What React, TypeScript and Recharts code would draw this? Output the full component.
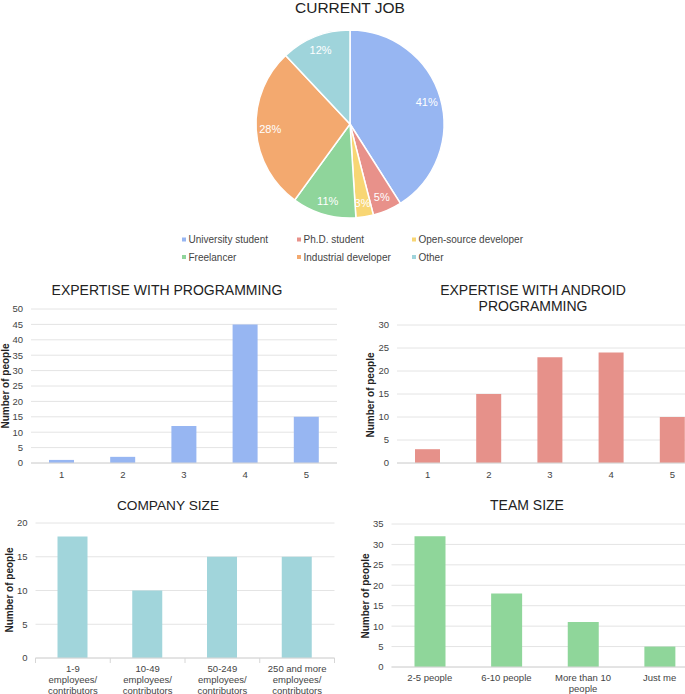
import React from 'react';
import { PieChart, Pie, Cell, BarChart, Bar, XAxis, YAxis, CartesianGrid } from 'recharts';

// ---------- DATA ----------
const jobLabels = ['University student', 'Ph.D. student', 'Open-source developer', 'Freelancer', 'Industrial developer', 'Other'];
const jobShares = [41, 5, 3, 11, 28, 12];
const jobColors = ['#97b6f2', '#e8918a', '#f8d674', '#8fd59b', '#f3a96f', '#9fd4db'];

const progLevels = ['1', '2', '3', '4', '5'];
const progCounts = [1, 2, 12, 45, 15];
const progTicks = [0, 5, 10, 15, 20, 25, 30, 35, 40, 45, 50];

const androidLevels = ['1', '2', '3', '4', '5'];
const androidCounts = [3, 15, 23, 24, 10];
const androidTicks = [0, 5, 10, 15, 20, 25, 30];

const companySizes = ['1-9 employees/ contributors', '10-49 employees/ contributors', '50-249 employees/ contributors', '250 and more employees/ contributors'];
const companyCounts = [18, 10, 15, 15];
const companyTicks = [0, 5, 10, 15, 20];

const teamSizes = ['2-5 people', '6-10 people', 'More than 10 people', 'Just me'];
const teamCounts = [32, 18, 11, 5];
const teamTicks = [0, 5, 10, 15, 20, 25, 30, 35];

// ---------- STYLE ----------
const FONT = '"Liberation Sans", Arial, Helvetica, sans-serif';
const TEXT = '#444';
const TITLE = '#222';
const GRID = '#e4e4e4';
const AXIS = '#d6d6d6';

const pieData = jobLabels.map((name, i) => ({ name, value: jobShares[i] }));
const progData = progLevels.map((c, i) => ({ c, v: progCounts[i] }));
const androidData = androidLevels.map((c, i) => ({ c, v: androidCounts[i] }));
const companyData = companySizes.map((c, i) => ({ c, v: companyCounts[i] }));
const teamData = teamSizes.map((c, i) => ({ c, v: teamCounts[i] }));

const RAD = Math.PI / 180;
const renderPieLabel = (p: any) => {
  const r = p.outerRadius * 0.85;
  const x = p.cx + r * Math.cos(-p.midAngle * RAD);
  const y = p.cy + r * Math.sin(-p.midAngle * RAD);
  return (
    <text x={x} y={y} fill="#fff" fontSize={11} fontFamily={FONT} textAnchor="middle" dominantBaseline="central">
      {p.value}%
    </text>
  );
};

const wrap = (s: string, max: number) => {
  const words = s.split(' ');
  const lines: string[] = [];
  let cur = '';
  for (const w of words) {
    const t = cur ? cur + ' ' + w : w;
    if (t.length > max && cur) {
      lines.push(cur);
      cur = w;
    } else cur = t;
  }
  if (cur) lines.push(cur);
  return lines;
};

const makeWrapTick = (band: number, count: number, boundaries: boolean) => (props: any) => {
  const { x, y, payload, index } = props;
  const lines = wrap(String(payload.value), 12);
  return (
    <g>
      {boundaries && (
        <line x1={x - band / 2} x2={x - band / 2} y1={y} y2={y + 5} stroke={AXIS} />
      )}
      {boundaries && index === count - 1 && (
        <line x1={x + band / 2} x2={x + band / 2} y1={y} y2={y + 5} stroke={AXIS} />
      )}
      {lines.map((l, i) => (
        <text key={i} x={x} y={y + 13.5 + i * 11} textAnchor="middle" fontSize={9.5} fill={TEXT} fontFamily={FONT}>
          {l}
        </text>
      ))}
    </g>
  );
};

const yTick = { fontSize: 9.5, fill: TEXT, fontFamily: FONT };
const xTick = { fontSize: 9.5, fill: TEXT, fontFamily: FONT };

const abs = (left: number, top: number): React.CSSProperties => ({ position: 'absolute', left, top });

export default function App() {
  const companyBand = 299 / companySizes.length;
  const teamBand = 306.5 / teamSizes.length;
  return (
    <div style={{ position: 'fixed', left: 0, top: 0, width: 685, height: 694, overflow: 'hidden', background: '#fff', fontFamily: FONT }}>
      {/* Pie */}
      <div style={abs(0, 0)}>
        <PieChart width={685} height={230} margin={{ top: 0, right: 0, bottom: 0, left: 0 }}>
          <Pie
            data={pieData}
            dataKey="value"
            cx={350}
            cy={124}
            outerRadius={94}
            startAngle={90}
            endAngle={-270}
            stroke="#fff"
            strokeWidth={1.5}
            label={renderPieLabel}
            labelLine={false}
            isAnimationActive={false}
          >
            {pieData.map((d, i) => (
              <Cell key={d.name} fill={jobColors[i]} />
            ))}
          </Pie>
        </PieChart>
      </div>

      {/* Expertise with programming */}
      <div style={abs(0, 300)}>
        <BarChart width={345} height={190} data={progData} margin={{ top: 9, right: 8, bottom: 0, left: 0 }}>
          <CartesianGrid vertical={false} stroke={GRID} />
          <XAxis dataKey="c" height={27} tick={xTick} tickLine={false} axisLine={{ stroke: AXIS }} />
          <YAxis width={31} domain={[0, 50]} ticks={progTicks} tick={yTick} tickLine={false} axisLine={false} interval={0} />
          <Bar dataKey="v" fill="#97b6f2" barSize={25} isAnimationActive={false} />
        </BarChart>
      </div>

      {/* Expertise with android programming */}
      <div style={abs(340, 300)}>
        <BarChart width={371} height={190} data={androidData} margin={{ top: 25, right: 8, bottom: 0, left: 0 }}>
          <CartesianGrid vertical={false} stroke={GRID} />
          <XAxis dataKey="c" height={27} tick={xTick} tickLine={false} axisLine={{ stroke: AXIS }} />
          <YAxis width={57} domain={[0, 30]} ticks={androidTicks} tick={yTick} tickLine={false} axisLine={false} interval={0} />
          <Bar dataKey="v" fill="#e6918a" barSize={25} isAnimationActive={false} />
        </BarChart>
      </div>

      {/* Company size */}
      <div style={abs(0, 510)}>
        <BarChart width={340} height={184} data={companyData} margin={{ top: 13, right: 5.5, bottom: 0, left: 0 }}>
          <CartesianGrid vertical={false} stroke={GRID} />
          <XAxis
            dataKey="c"
            height={36}
            tickSize={0}
            tickMargin={0}
            tickLine={false}
            interval={0}
            axisLine={{ stroke: AXIS }}
            tick={makeWrapTick(companyBand, companySizes.length, true)}
          />
          <YAxis width={35.5} domain={[0, 20]} ticks={companyTicks} tick={yTick} tickLine={false} axisLine={false} interval={0} />
          <Bar dataKey="v" fill="#a1d5db" barSize={30} isAnimationActive={false} />
        </BarChart>
      </div>

      {/* Team size */}
      <div style={abs(340, 510)}>
        <BarChart width={363} height={184} data={teamData} margin={{ top: 14, right: 5, bottom: 0, left: 0 }}>
          <CartesianGrid vertical={false} stroke={GRID} />
          <XAxis
            dataKey="c"
            height={27}
            tickSize={0}
            tickMargin={0}
            tickLine={false}
            interval={0}
            axisLine={{ stroke: AXIS }}
            tick={makeWrapTick(teamBand, teamSizes.length, false)}
          />
          <YAxis width={51.5} domain={[0, 35]} ticks={teamTicks} tick={yTick} tickLine={false} axisLine={false} interval={0} />
          <Bar dataKey="v" fill="#8fd69a" barSize={31} isAnimationActive={false} />
        </BarChart>
      </div>

      {/* Text overlay: titles, legend, axis titles */}
      <svg width={685} height={694} style={{ position: 'absolute', left: 0, top: 0, pointerEvents: 'none' }} fontFamily={FONT}>
        <text x={350} y={12.5} textAnchor="middle" fontSize={15.5} fill={TITLE}>CURRENT JOB</text>
        <text x={167} y={294.5} textAnchor="middle" fontSize={14} fill={TITLE}>EXPERTISE WITH PROGRAMMING</text>
        <text x={533} y={295} textAnchor="middle" fontSize={14} fill={TITLE}>EXPERTISE WITH ANDROID</text>
        <text x={533} y={311} textAnchor="middle" fontSize={14} fill={TITLE}>PROGRAMMING</text>
        <text x={168} y={509.5} textAnchor="middle" fontSize={13.7} fill={TITLE}>COMPANY SIZE</text>
        <text x={527} y={509.5} textAnchor="middle" fontSize={14} fill={TITLE}>TEAM SIZE</text>

        {jobLabels.map((l, i) => {
          const col = i % 3;
          const row = Math.floor(i / 3);
          const x = [182, 297, 412][col];
          const y = [239.5, 257][row];
          return (
            <g key={l}>
              <rect x={x} y={y - 2} width={4} height={4} fill={jobColors[i]} />
              <text x={x + 6.5} y={y + 3.5} fontSize={10} fill={TEXT}>{l}</text>
            </g>
          );
        })}

        {[
          [5.5, 386],
          [370, 395],
          [9.5, 590],
          [365, 596],
        ].map(([cx, cy], i) => (
          <text
            key={i}
            x={cx}
            y={cy}
            transform={`rotate(-90, ${cx}, ${cy})`}
            textAnchor="middle"
            dominantBaseline="central"
            fontSize={10}
            fontWeight="bold"
            fill="#222"
          >
            Number of people
          </text>
        ))}
      </svg>
    </div>
  );
}
